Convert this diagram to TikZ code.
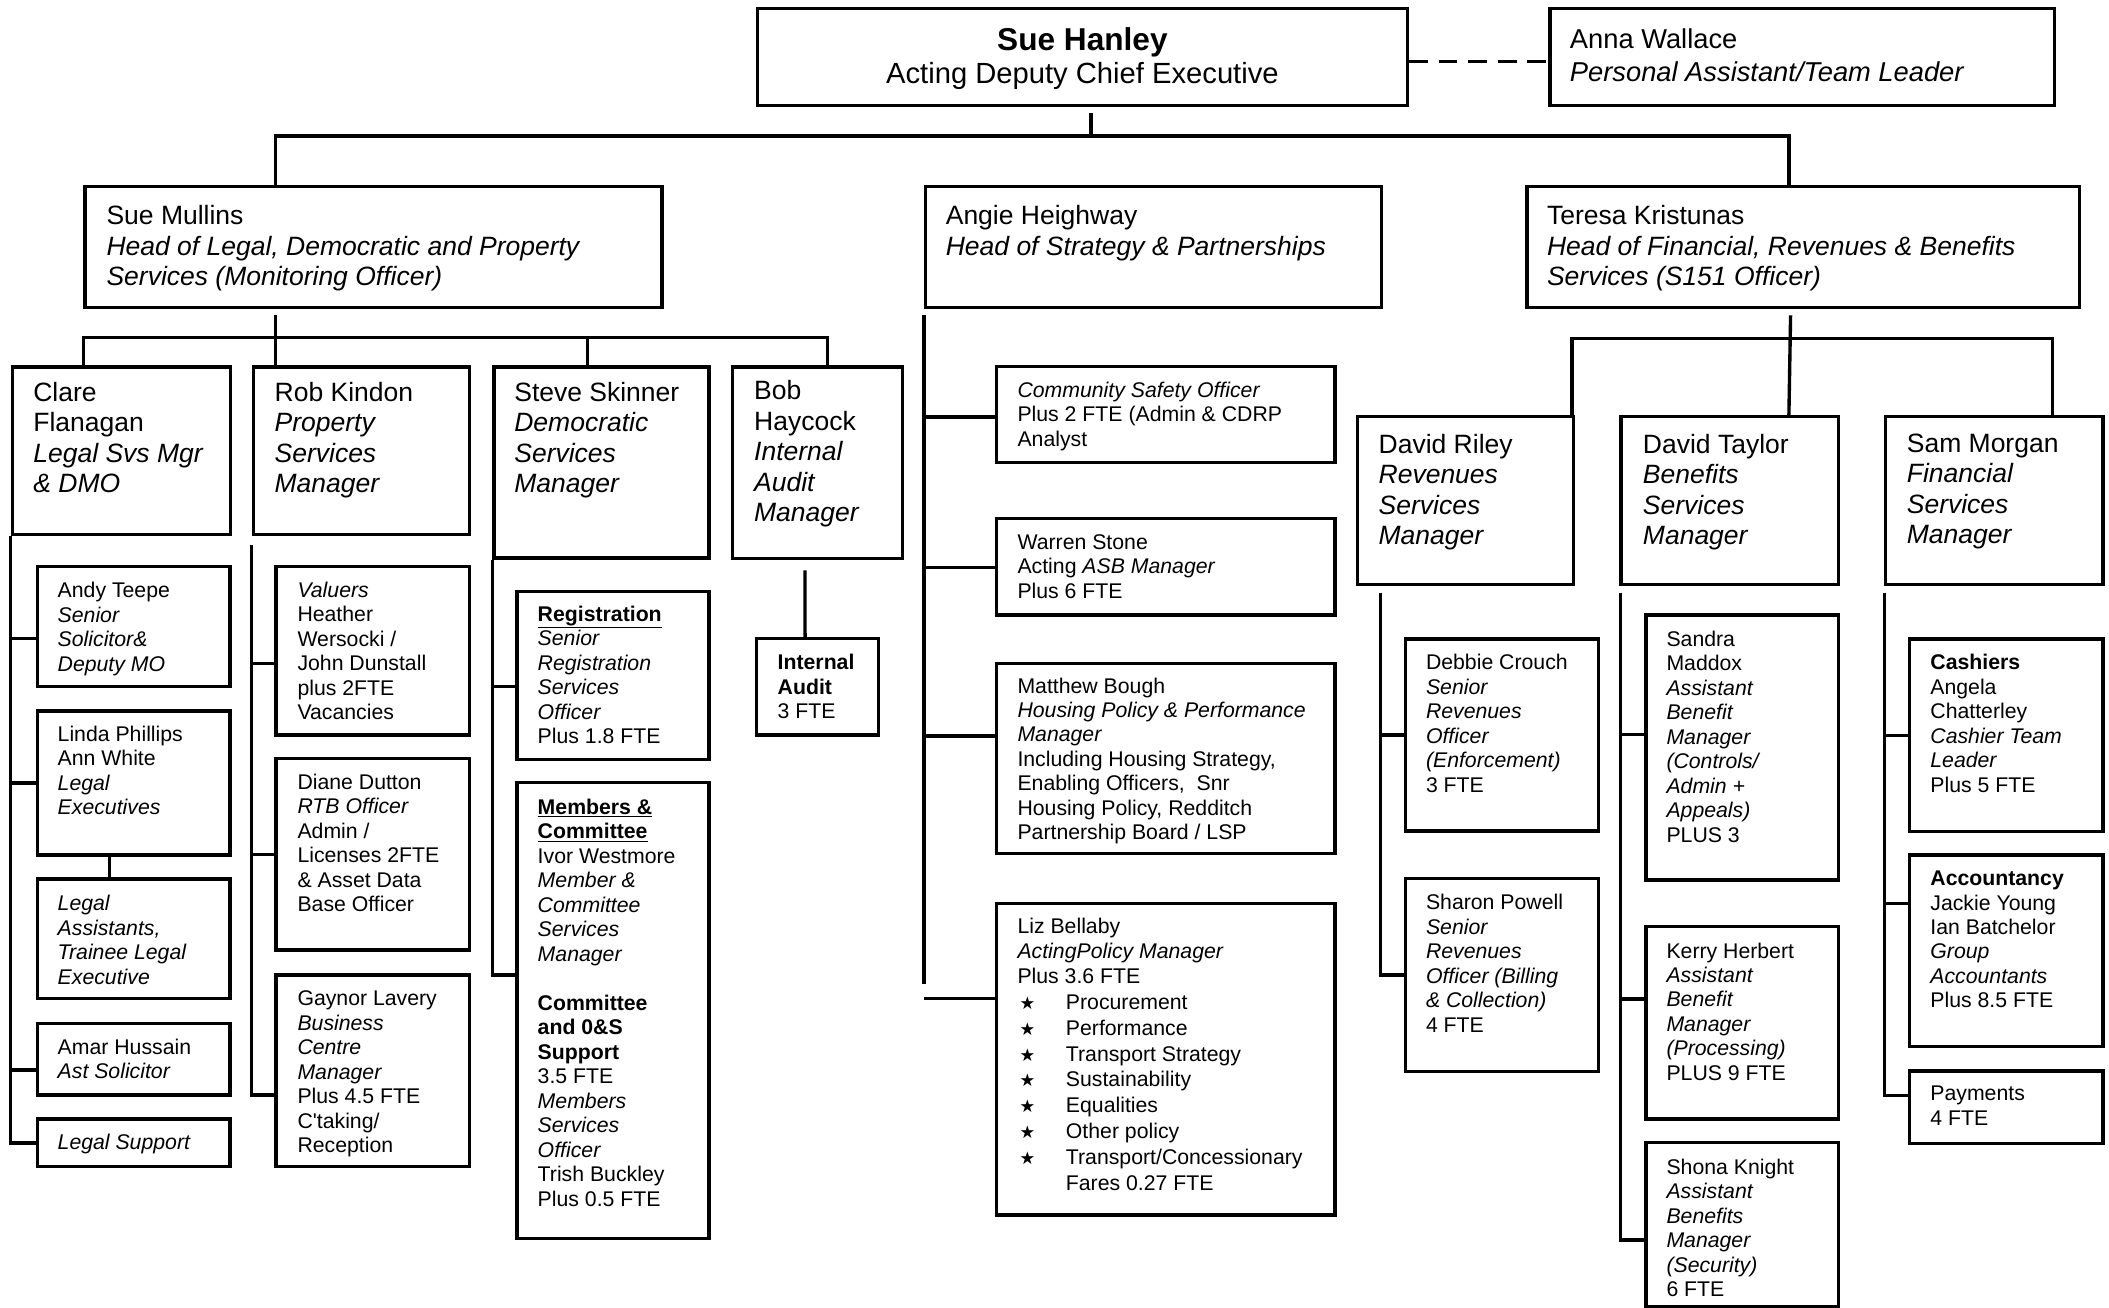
\documentclass[tikz,border=0pt]{standalone}
\usepackage{fontspec}
\setmainfont{Liberation Sans}
\newfontfamily\starfont{DejaVu Sans}
\newcommand\staritem[1]{\makebox[36pt][l]{\hspace{1.5pt}{\starfont\fontsize{13}{13}\selectfont ★}}#1}
\begin{document}
\begin{tikzpicture}[x=1pt,y=-1pt]
  \tikzstyle{box}=[draw, line width=2.5pt, anchor=north west, inner sep=0pt]
  \tikzstyle{conn}=[line width=2.5pt]
  \tikzstyle{lbl}=[anchor=north west, inner sep=0pt, align=left]
  \tikzstyle{bigtxt}=[lbl, font=\fontsize{19.7}{22.6}\selectfont]
  \tikzstyle{smalltxt}=[lbl, font=\fontsize{15.8}{18.2}\selectfont]
  \useasboundingbox (0,0) rectangle (1568,972);

  % top
  \node[box, minimum width=483, minimum height=72,
    label={[anchor=base, yshift=-32.7, font=\fontsize{23.5}{26}\selectfont\bfseries]north:Sue Hanley},
    label={[anchor=base, yshift=-57.3, font=\fontsize{21.7}{24}\selectfont]north:Acting Deputy Chief Executive}] (hanley) at (562,5) {};
  \node[box, minimum width=375, minimum height=72,
    label={[lbl, font=\fontsize{20.3}{24.3}\selectfont, xshift=16, yshift=-16.2]north west:{Anna Wallace\\\textit{Personal Assistant/Team Leader}}}] (anna) at (1151,5) {};

  \node[box, minimum width=429, minimum height=90,
    label={[bigtxt, xshift=17, yshift=-15.3]north west:{Sue Mullins\\\textit{Head of Legal, Democratic and Property}\\\textit{Services (Monitoring Officer)}}}] (mullins) at (62,137.5) {};
  \node[box, minimum width=339, minimum height=90,
    label={[bigtxt, xshift=16, yshift=-15.3]north west:{Angie Heighway\\\textit{Head of Strategy \& Partnerships}}}] (angie) at (687,137.5) {};
  \node[box, minimum width=411, minimum height=90,
    label={[bigtxt, xshift=16, yshift=-15.3]north west:{Teresa Kristunas\\\textit{Head of Financial, Revenues \& Benefits}\\\textit{Services (S151 Officer)}}}] (teresa) at (1134,137.5) {};

  % legal, democratic and property
  \node[box, minimum width=162, minimum height=124.5,
    label={[bigtxt, xshift=16.6, yshift=-12.6]north west:{Clare\\Flanagan\\\textit{Legal Svs Mgr}\\\textit{\& DMO}}}] (clare) at (8,271.5) {};
  \node[box, minimum width=161, minimum height=124.5,
    label={[bigtxt, xshift=17, yshift=-12.6]north west:{Rob Kindon\\\textit{Property}\\\textit{Services}\\\textit{Manager}}}] (rob) at (187,271.5) {};
  \node[box, minimum width=160, minimum height=142,
    label={[bigtxt, xshift=16.2, yshift=-12.4]north west:{Steve Skinner\\\textit{Democratic}\\\textit{Services}\\\textit{Manager}}}] (steve) at (366,271.5) {};
  \node[box, minimum width=126, minimum height=142.4,
    label={[bigtxt, xshift=17, yshift=-11.4]north west:{Bob\\Haycock\\\textit{Internal}\\\textit{Audit}\\\textit{Manager}}}] (bob) at (543.5,271.5) {};

  \node[box, minimum width=143.1, minimum height=89.3,
    label={[smalltxt, xshift=16.1, yshift=-12.9]north west:{Andy Teepe\\\textit{Senior}\\\textit{Solicitor\&}\\\textit{Deputy MO}}}] (andy) at (26.6,420) {};
  \node[box, minimum width=143.1, minimum height=107.1,
    label={[smalltxt, xshift=16.1, yshift=-12.1]north west:{Linda Phillips\\Ann White\\\textit{Legal}\\\textit{Executives}}}] (linda) at (26.6,527.4) {};
  \node[box, minimum width=143.1, minimum height=88.7,
    label={[smalltxt, xshift=16.1, yshift=-13.2]north west:{\textit{Legal}\\\textit{Assistants,}\\\textit{Trainee Legal}\\\textit{Executive}}}] (legalasst) at (26.6,652.3) {};
  \node[box, minimum width=143.1, minimum height=53.3,
    label={[smalltxt, xshift=16.1, yshift=-12.4]north west:{Amar Hussain\\\textit{Ast Solicitor}}}] (amar) at (26.6,759.6) {};
  \node[box, minimum width=143.1, minimum height=35.4,
    label={[smalltxt, xshift=16.1, yshift=-12.4]north west:{\textit{Legal Support}}}] (legalsup) at (26.6,830.8) {};

  \node[box, minimum width=144, minimum height=125.2,
    label={[smalltxt, xshift=17, yshift=-12.3]north west:{\textit{Valuers}\\Heather\\Wersocki /\\John Dunstall\\plus 2FTE\\Vacancies}}] (valuers) at (204,420) {};
  \node[box, minimum width=144, minimum height=142.5,
    label={[smalltxt, xshift=17, yshift=-12.7]north west:{Diane Dutton\\\textit{RTB Officer}\\Admin /\\Licenses 2FTE\\\& Asset Data\\Base Officer}}] (diane) at (204,562.6) {};
  \node[box, minimum width=144, minimum height=142.5,
    label={[smalltxt, xshift=17, yshift=-12.9]north west:{Gaynor Lavery\\\textit{Business}\\\textit{Centre}\\\textit{Manager}\\Plus 4.5 FTE\\C\textquotesingle taking/\\Reception}}] (gaynor) at (204,723.7) {};

  \node[box, minimum width=143, minimum height=124.5,
    label={[smalltxt, xshift=16.6, yshift=-11.6]north west:{\underline{\textbf{Registration}}\\\textit{Senior}\\\textit{Registration}\\\textit{Services}\\\textit{Officer}\\Plus 1.8 FTE}}] (regist) at (383,438.7) {};
  \node[box, minimum width=143, minimum height=339.1,
    label={[smalltxt, xshift=16.6, yshift=-13.4]north west:{\underline{\textbf{Members \&}}\\\underline{\textbf{Committee}}\\Ivor Westmore\\\textit{Member \&}\\\textit{Committee}\\\textit{Services}\\\textit{Manager}\\ \\\textbf{Committee}\\\textbf{and 0\&S}\\\textbf{Support}\\3.5 FTE\\\textit{Members}\\\textit{Services}\\\textit{Officer}\\Trish Buckley\\Plus 0.5 FTE}}] (members) at (383,580.4) {};

  \node[box, minimum width=90.4, minimum height=71.7,
    label={[smalltxt, xshift=16.6, yshift=-12.7]north west:{\textbf{Internal}\\\textbf{Audit}\\3 FTE}}] (iaudit) at (561.4,473.6) {};

  % strategy and partnerships
  \node[box, minimum width=251.6, minimum height=71.1,
    label={[smalltxt, xshift=16.6, yshift=-12.4]north west:{\textit{Community Safety Officer}\\Plus 2 FTE (Admin \& CDRP\\Analyst}}] (comm) at (739.7,271.4) {};
  \node[box, minimum width=251.6, minimum height=71.8,
    label={[smalltxt, xshift=16.6, yshift=-12.8]north west:{Warren Stone\\Acting \textit{ASB Manager}\\Plus 6 FTE}}] (warren) at (739.7,384.2) {};
  \node[box, minimum width=251.6, minimum height=141.2,
    label={[smalltxt, xshift=16.6, yshift=-11.6]north west:{Matthew Bough\\\textit{Housing Policy \& Performance}\\\textit{Manager}\\Including Housing Strategy,\\Enabling Officers,~ Snr\\Housing Policy, Redditch\\Partnership Board / LSP}}] (matthew) at (739.7,492) {};
  \node[box, minimum width=251.6, minimum height=231.7,
    label={[lbl, font=\fontsize{15.8}{18.6}\selectfont, xshift=16.6, yshift=-11.7]north west:{Liz Bellaby\\\textit{ActingPolicy Manager}\\Plus 3.6 FTE\\[0.7pt]\staritem{Procurement}\\[0.7pt]\staritem{Performance}\\[0.7pt]\staritem{Transport Strategy}\\[0.7pt]\staritem{Sustainability}\\[0.7pt]\staritem{Equalities}\\[0.7pt]\staritem{Other policy}\\[0.7pt]\staritem{Transport/Concessionary}\\[0.7pt]\hspace*{36pt}Fares 0.27 FTE}}] (liz) at (739.7,670.4) {};

  % financial, revenues and benefits
  \node[box, minimum width=160.8, minimum height=124.6,
    label={[bigtxt, xshift=16.8, yshift=-13.9]north west:{David Riley\\\textit{Revenues}\\\textit{Services}\\\textit{Manager}}}] (driley) at (1008,308.6) {};
  \node[box, minimum width=161.4, minimum height=124.6,
    label={[bigtxt, xshift=17.3, yshift=-13.9]north west:{David Taylor\\\textit{Benefits}\\\textit{Services}\\\textit{Manager}}}] (dtaylor) at (1204,308.6) {};
  \node[box, minimum width=161.9, minimum height=124.6,
    label={[bigtxt, xshift=17.1, yshift=-13.9]north west:{Sam Morgan\\\textit{Financial}\\\textit{Services}\\\textit{Manager}}}] (smorgan) at (1400.4,308.6) {};

  \node[box, minimum width=143.3, minimum height=142.7,
    label={[smalltxt, xshift=16.3, yshift=-12.4]north west:{Debbie Crouch\\\textit{Senior}\\\textit{Revenues}\\\textit{Officer}\\\textit{(Enforcement)}\\3 FTE}}] (debbie) at (1043.7,473.9) {};
  \node[box, minimum width=143.3, minimum height=143.8,
    label={[smalltxt, xshift=16.3, yshift=-12.9]north west:{Sharon Powell\\\textit{Senior}\\\textit{Revenues}\\\textit{Officer (Billing}\\\textit{\& Collection)}\\4 FTE}}] (sharon) at (1043.7,651.8) {};

  \node[box, minimum width=143, minimum height=197,
    label={[smalltxt, xshift=16.4, yshift=-12.9]north west:{Sandra\\Maddox\\\textit{Assistant}\\\textit{Benefit}\\\textit{Manager}\\\textit{(Controls/}\\\textit{Admin +}\\\textit{Appeals)}\\PLUS 3}}] (sandra) at (1222.4,456) {};
  \node[box, minimum width=143, minimum height=143,
    label={[smalltxt, xshift=16.4, yshift=-12.8]north west:{Kerry Herbert\\\textit{Assistant}\\\textit{Benefit}\\\textit{Manager}\\\textit{(Processing)}\\PLUS 9 FTE}}] (kerry) at (1222.4,687.8) {};
  \node[box, minimum width=143, minimum height=121.6,
    label={[smalltxt, xshift=16.4, yshift=-12.9]north west:{Shona Knight\\\textit{Assistant}\\\textit{Benefits}\\\textit{Manager}\\\textit{(Security)}\\6 FTE}}] (shona) at (1222.4,848.4) {};

  \node[box, minimum width=143.7, minimum height=143.1,
    label={[smalltxt, xshift=16.4, yshift=-12.4]north west:{\textbf{Cashiers}\\Angela\\Chatterley\\\textit{Cashier Team}\\\textit{Leader}\\Plus 5 FTE}}] (cashiers) at (1418.6,473.9) {};
  \node[box, minimum width=143.7, minimum height=142.5,
    label={[smalltxt, xshift=16.4, yshift=-12.8]north west:{\textbf{Accountancy}\\Jackie Young\\Ian Batchelor\\\textit{Group}\\\textit{Accountants}\\Plus 8.5 FTE}}] (accnt) at (1418.6,634.5) {};
  \node[box, minimum width=143.7, minimum height=53.8,
    label={[smalltxt, xshift=16.4, yshift=-12.3]north west:{Payments\\4 FTE}}] (payments) at (1418.6,795) {};

  % connectors
  \coordinate (hb) at (811,101);
  \coordinate (hl) at (205,101);
  \coordinate (hr) at (1330,101);
  \draw[conn, shorten <=4.5] (hanley.south -| hb) -- (hb);
  \draw[conn] (mullins.north -| hl) -- (hl) -- (hr) -- (teresa.north -| hr);
  \draw[conn, dash pattern=on 14pt off 8pt] ([yshift=-3.5]hanley.east) -- ([yshift=-3.5]anna.west);

  \coordinate (mm) at (205,251);
  \coordinate (ml) at (62,251);
  \coordinate (mr) at (615,251);
  \coordinate (ms) at (437,251);
  \draw[conn, shorten <=4.5] (mullins.south -| mm) -- (rob.north -| mm);
  \draw[conn] (clare.north -| ml) -- (ml) -- (mr) -- (bob.north -| mr);
  \draw[conn] (ms) -- (steve.north -| ms);

  \draw[conn] ([yshift=-8.6]andy.west) -| (clare.south west);
  \draw[conn] (linda.west) -| (clare.south west);
  \draw[conn] ([yshift=-8.05]amar.west) -| (clare.south west);
  \draw[conn] (legalsup.west) -| (clare.south west);
  \draw[conn] ([xshift=-17.9]linda.south) -- ([xshift=-17.9]legalasst.north);

  \coordinate (rt) at ([yshift=-6.7]rob.south west);
  \draw[conn] ([yshift=-9.4]valuers.west) -| (rt);
  \draw[conn] (diane.west) -| (rt);
  \draw[conn] ([yshift=-17.95]gaynor.west) -| (rt);

  \draw[conn] ([yshift=-8.35]regist.west) -| (steve.south west);
  \draw[conn] ([yshift=26.25]members.west) -| (steve.south west);

  \draw[conn] ([xshift=-9.3, yshift=-7.6]bob.south) -- ([xshift=-9.3]iaudit.north);

  \coordinate (at) at ([yshift=-4.5]angie.south west);
  \coordinate (aend) at (687,731.9);
  \draw[conn] (at) -- (aend);
  \draw[conn] ([yshift=-1.7]comm.west) -| (at);
  \draw[conn] ([yshift=-0.6]warren.west) -| (at);
  \draw[conn] ([yshift=16.6]matthew.west) -| (at);
  \coordinate (lizb) at ([yshift=45.25]liz.west);
  \draw[conn] (lizb) -- (lizb -| aend);

  \coordinate (tm) at (1330,251.5);
  \coordinate (tl) at (1168.8,251.5);
  \coordinate (tr) at (1526.2,251.5);
  \draw[conn] ([xshift=-9.5, yshift=-4.5]teresa.south) -- (dtaylor.north -| tm);
  \draw[conn] (driley.north -| tl) -- (tl) -- (tr) -- (smorgan.north -| tr);

  \coordinate (rr) at ([xshift=18.2, yshift=-5.5]driley.south west);
  \draw[conn] (debbie.west) -| (rr);
  \draw[conn] (sharon.west) -| (rr);

  \coordinate (tt) at ([xshift=0.9, yshift=-5.5]dtaylor.south west);
  \draw[conn] ([yshift=9.8]sandra.west) -| (tt);
  \draw[conn] ([yshift=17.8]kerry.west) -| (tt);
  \draw[conn] ([yshift=-11.5]shona.west) -| (tt);

  \coordinate (st) at ([xshift=0.7, yshift=-5.5]smorgan.south west);
  \draw[conn] (cashiers.west) -| (st);
  \draw[conn] ([yshift=35.35]accnt.west) -| (st);
  \draw[conn] ([yshift=8.9]payments.west) -| (st);
\end{tikzpicture}
\end{document}
